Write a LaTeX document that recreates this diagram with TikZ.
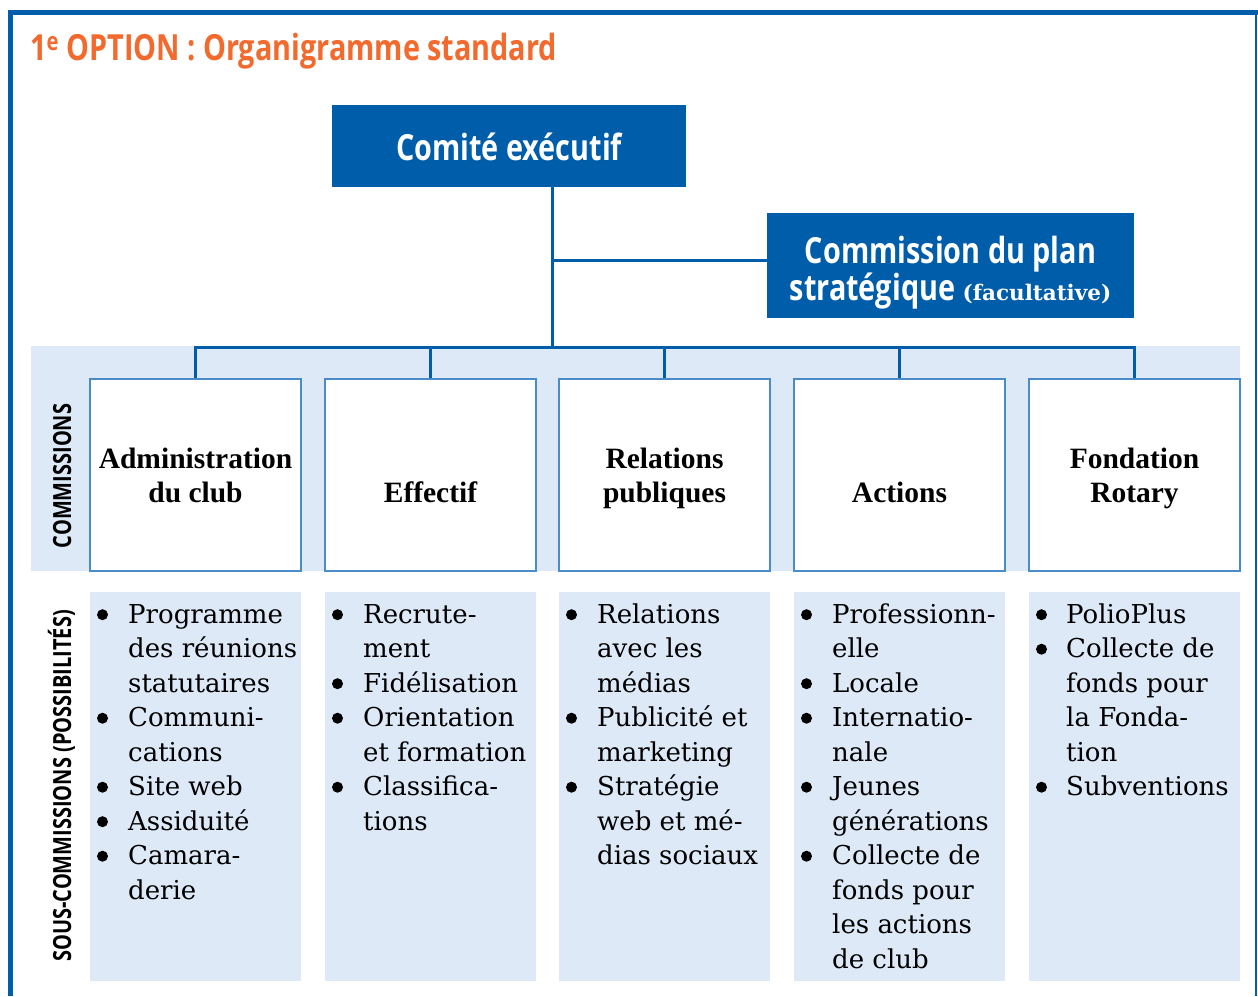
\documentclass[tikz,border=0pt]{standalone}
\usepackage{fontspec}
\newfontfamily\condsans[FakeStretch=0.80]{Open Sans}
\newfontfamily\listserif{DejaVu Serif}
\newfontfamily\labserif{Liberation Serif}
\definecolor{rblue}{HTML}{005DAA}
\definecolor{bord}{HTML}{4A8BC9}
\definecolor{band}{HTML}{DDE9F7}
\definecolor{orng}{HTML}{F26A2E}
\tikzset{
  conn/.style={draw=rblue, line width=3pt},
  bluebox/.style={fill=rblue, draw=none, inner sep=0pt},
  combox/.style={fill=white, draw=bord, line width=1.8pt, minimum width=211pt, minimum height=192pt, inner sep=0pt},
  subbox/.style={fill=band, draw=none, minimum width=211pt, minimum height=389pt, inner sep=0pt},
  comlabel/.style={anchor=base, inner sep=0pt, font=\fontsize{29.5}{34}\labserif\bfseries},
  sublist/.style={anchor=base west, inner sep=0pt},
  sidelabel/.style={anchor=base, rotate=90, inner sep=0pt, font=\fontsize{25}{28}\condsans\bfseries},
  dot/.style={fill=black},
}
\newcommand\lst[1]{\parbox[t]{300pt}{\fontsize{26}{34.5}\listserif\raggedright #1}}
\begin{document}
\begin{tikzpicture}[x=1pt,y=-1pt]
\useasboundingbox (0,0) rectangle (1258,996);
% frame
\draw[rblue, line width=1.5pt] (1256,12) -- (1256,996);
\draw[rblue, line width=5pt] (10.5,996) -- (10.5,12.5) -- (1258,12.5);
% title
\node[anchor=base west, inner sep=0pt, text=orng, font=\fontsize{36}{40}\condsans\bfseries] (title) at (30,60) {1\textsuperscript{e} OPTION : Organigramme standard};
% band
\fill[band] (31,346) rectangle (1240,571);
% top boxes
\node[bluebox, minimum width=354pt, minimum height=82pt] (comite) at (509,146) {};
\node[anchor=base, inner sep=0pt, text=white, font=\fontsize{36}{40}\condsans\bfseries] (comiteT) at (509,160) {Comité exécutif};
\node[bluebox, minimum width=367pt, minimum height=105pt] (plan) at (950.5,265.5) {};
\node[anchor=base, inner sep=0pt, text=white] (planT) at (950.5,263) {\parbox[t]{360pt}{\centering\fontsize{36}{33}\condsans\bfseries Commission du plan\\stratégique {\fontsize{21.5}{33}\listserif\bfseries (facultative)}}};
% commission boxes
\node[combox] (c1) at (195.5,475) {};
\node[combox] (c2) at (430.5,475) {};
\node[combox] (c3) at (664.5,475) {};
\node[combox] (c4) at (899.5,475) {};
\node[combox] (c5) at (1134.5,475) {};
% connectors
\coordinate (bus) at (552,347);
\coordinate (jn) at (552,260);
\draw[conn] (comite.south -| bus) -- (bus);
\draw[conn] (jn) -- (jn -| plan.west);
\draw[conn] (c1.north) -- (c1.north |- bus) -- (c5.north |- bus) -- (c5.north);
\draw[conn] (c2.north) -- (c2.north |- bus);
\draw[conn] (c3.north) -- (c3.north |- bus);
\draw[conn] (c4.north) -- (c4.north |- bus);
% commission labels
\node[comlabel] (l1) at (195.5,502) {\parbox[b]{210pt}{\centering Administration\\du club}};
\node[comlabel] (l2) at (430.5,502) {Effectif};
\node[comlabel] (l3) at (664.5,502) {\parbox[b]{210pt}{\centering Relations\\publiques}};
\node[comlabel] (l4) at (899.5,502) {Actions};
\node[comlabel] (l5) at (1134.5,502) {\parbox[b]{210pt}{\centering Fondation\\Rotary}};
% sub boxes
\node[subbox] (s1) at (195.5,786.5) {};
\node[subbox] (s2) at (430.5,786.5) {};
\node[subbox] (s3) at (664.5,786.5) {};
\node[subbox] (s4) at (899.5,786.5) {};
\node[subbox] (s5) at (1134.5,786.5) {};
% side labels
\node[sidelabel] (side1) at (71,476) {COMMISSIONS};
\node[sidelabel] (side2) at (71,786) {SOUS-COMMISSIONS (POSSIBILITÉS)};
% bullets
\foreach \k in {0,3,5,6,7} \fill[dot] (102.5,614.7+34.5*\k) circle[radius=5.5pt];
\foreach \k in {0,2,3,5} \fill[dot] (337.5,614.7+34.5*\k) circle[radius=5.5pt];
\foreach \k in {0,3,5} \fill[dot] (571.5,614.7+34.5*\k) circle[radius=5.5pt];
\foreach \k in {0,2,3,5,7} \fill[dot] (806.5,614.7+34.5*\k) circle[radius=5.5pt];
\foreach \k in {0,1,5} \fill[dot] (1041.5,614.7+34.5*\k) circle[radius=5.5pt];
% lists
\node[sublist] (t1) at (128,623) {\lst{Programme\\des réunions\\statutaires\\Communi-\\cations\\Site web\\Assiduité\\Camara-\\derie}};
\node[sublist] (t2) at (363,623) {\lst{Recrute-\\ment\\Fidélisation\\Orientation\\et formation\\Classifica-\\tions}};
\node[sublist] (t3) at (597,623) {\lst{Relations\\avec les\\médias\\Publicité et\\marketing\\Stratégie\\web et mé-\\dias sociaux}};
\node[sublist] (t4) at (832,623) {\lst{Professionn-\\elle\\Locale\\Internatio-\\nale\\Jeunes\\générations\\Collecte de\\fonds pour\\les actions\\de club}};
\node[sublist] (t5) at (1066,623) {\lst{PolioPlus\\Collecte de\\fonds pour\\la Fonda-\\tion\\Subventions}};
\end{tikzpicture}
\end{document}
